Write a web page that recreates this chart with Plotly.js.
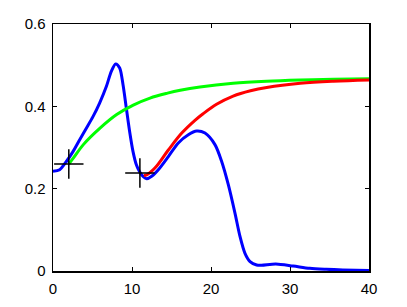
<!DOCTYPE html>
<html>
<head>
<meta charset="utf-8">
<script src="https://cdn.plot.ly/plotly-3.0.1.min.js"></script>
<style>html,body{margin:0;padding:0;background:#fff;}#chart{width:407px;height:307px;}</style>
</head>
<body>
<div id="chart"></div>
<script>
const blueX = [0, 0.84, 1.69, 2.53, 3.38, 4.22, 5.06, 5.9, 6.75, 7.38, 7.93, 8.44, 8.86, 9.28, 9.7, 10.13, 10.55, 11.0, 11.43, 11.86, 12.49, 13.33, 14.6, 15.86, 17.13, 18.19, 19.24, 20.5, 21.35, 22.2, 23.04, 23.67, 24.3, 24.94, 25.78, 26.4, 28.2, 30.4, 32.5, 34.6, 36.7, 40];
const blueY = [0.242, 0.246, 0.266, 0.29, 0.319, 0.347, 0.375, 0.408, 0.448, 0.485, 0.503, 0.493, 0.453, 0.396, 0.339, 0.29, 0.258, 0.24, 0.229, 0.224, 0.23, 0.246, 0.278, 0.311, 0.331, 0.34, 0.335, 0.307, 0.266, 0.209, 0.14, 0.084, 0.043, 0.023, 0.0146, 0.014, 0.017, 0.012, 0.0065, 0.004, 0.0024, 0.001];
const greenX = [2, 2.57, 3.84, 5.95, 8.06, 10.16, 12.28, 14.5, 16.1, 18.6, 22.8, 27.05, 31.3, 35.5, 40];
const greenY = [0.26, 0.274, 0.307, 0.347, 0.38, 0.403, 0.42, 0.432, 0.439, 0.447, 0.456, 0.461, 0.464, 0.466, 0.467];
const redX = [11.5, 11.86, 12.9, 14.6, 16.3, 17.97, 19.0, 20.7, 22.8, 25, 27.05, 31.3, 35.5, 40];
const redY = [0.232, 0.2336, 0.25, 0.294, 0.335, 0.366, 0.382, 0.405, 0.425, 0.438, 0.446, 0.456, 0.461, 0.464];
const crossX = [2, 11];
const crossY = [0.26, 0.238];
const xTicks = [0, 10, 20, 30, 40];
const yTicks = [0, 0.2, 0.4, 0.6];
const xTickText = ['0', '10', '20', '30', '40'];
const yTickText = ['0', '0.2', '0.4', '0.6'];

const traces = [
  {x: blueX, y: blueY, mode: 'lines', line: {color: '#0000ff', width: 3, shape: 'spline', smoothing: 0.8}},
  {x: greenX, y: greenY, mode: 'lines', line: {color: '#00ff00', width: 3, shape: 'spline', smoothing: 1}},
  {x: redX, y: redY, mode: 'lines', line: {color: '#ff0000', width: 3, shape: 'spline', smoothing: 1}},
  {x: crossX, y: crossY, mode: 'markers', marker: {symbol: 'cross-thin-open', size: 21, color: '#000', line: {color: '#000', width: 1.5}}}
];

const axisBase = {
  showgrid: false, zeroline: false, showline: true, linecolor: '#000', linewidth: 1.5,
  mirror: 'ticks', ticks: 'inside', ticklen: 4, tickwidth: 1, tickcolor: '#000',
  tickfont: {family: 'Liberation Sans, Arial, sans-serif', size: 15, color: '#000'}
};

const layout = {
  width: 407, height: 307,
  margin: {l: 53, r: 38, t: 24, b: 36},
  paper_bgcolor: '#fff', plot_bgcolor: '#fff',
  showlegend: false,
  xaxis: Object.assign({}, axisBase, {range: [0, 40], tickvals: xTicks, ticktext: xTickText, ticklabelstandoff: 3}),
  yaxis: Object.assign({}, axisBase, {range: [0, 0.6], tickvals: yTicks, ticktext: yTickText, ticklabelstandoff: 3})
};

Plotly.newPlot('chart', traces, layout, {displayModeBar: false, staticPlot: true});
</script>
</body>
</html>
